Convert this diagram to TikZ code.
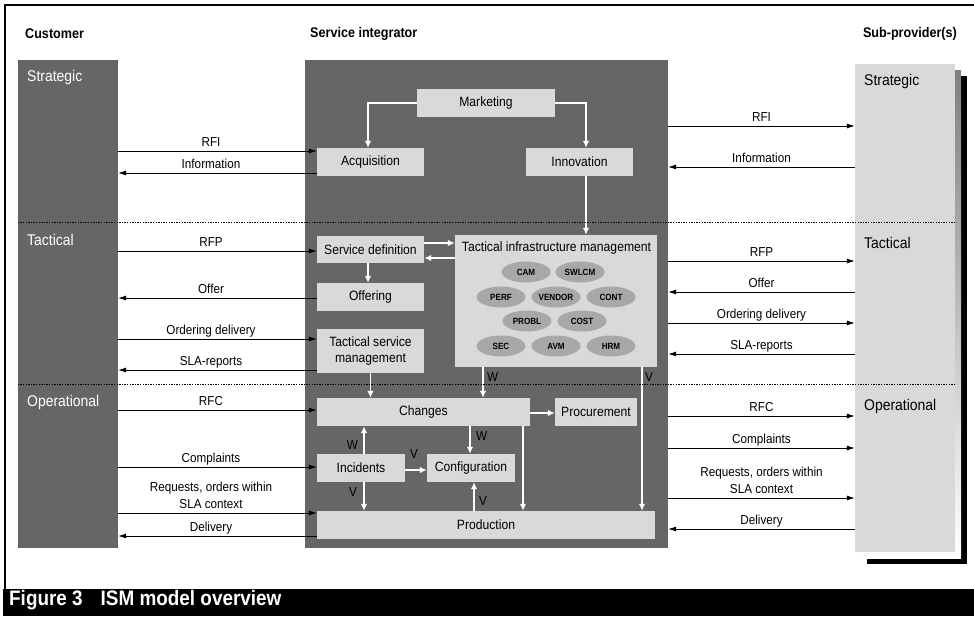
\documentclass[tikz,border=0pt]{standalone}
\usepackage{fontspec}
\setmainfont{Liberation Sans}[FakeStretch=0.9]
\usetikzlibrary{arrows.meta,shapes.geometric}
\definecolor{panel}{HTML}{666666}
\definecolor{boxfill}{HTML}{D9D9D9}
\definecolor{ovalfill}{HTML}{A8A8A8}
\definecolor{shade}{HTML}{999999}
\newcommand\fsz[2]{\fontsize{#1}{#2}\selectfont}
\begin{document}
\begin{tikzpicture}[x=1pt,y=-1pt,
  box/.style={fill=boxfill,draw=none,inner sep=0pt,font=\fsz{13.5}{16.5},text=black,align=center},
  oval/.style={ellipse,fill=ovalfill,draw=none,inner sep=0pt,minimum width=49,minimum height=21,font=\bfseries\fsz{9}{10}},
  lab/.style={font=\fsz{13}{16.5},inner sep=0pt,anchor=base},
  twolab/.style={font=\fsz{13}{16.5},inner sep=0pt,anchor=south,align=center,text depth=0pt},
  wv/.style={font=\fsz{13}{16},inner sep=0pt,text=black},
  head/.style={font=\bfseries\fsz{14}{16},inner sep=0pt},
  layer/.style={font=\fsz{15.5}{18},inner sep=0pt,anchor=west},
  ext/.style={draw=black,line width=0.8pt,-{Latex[length=8pt,width=5pt]}},
  wa/.style={draw=white,line width=1.3pt,-{Latex[length=7pt,width=6.5pt]}},
  dotline/.style={draw=black,line width=0.8pt,dash pattern=on 1.3pt off 1.3pt}]
\useasboundingbox (0,0) rectangle (974,616);

% frame and caption bar
\draw[line width=2pt] (4,5) -- (974,5);
\draw[line width=2pt] (5,4) -- (5,590);
\fill[black] (3,589) rectangle (974,616);
\node[anchor=base west,inner sep=0pt,text=white,font=\bfseries\fsz{21}{24}] (cap) at (9,605)
  {Figure 3\hspace*{18pt}ISM model overview};

% column headers
\node[head,anchor=west] (hcust) at (25,34) {Customer};
\node[head,anchor=west] (hsi) at (310,34) {Service integrator};
\node[head,anchor=east] (hsub) at (957,34) {Sub-provider(s)};

% columns
\node[fill=panel,inner sep=0pt,minimum width=100,minimum height=488] (cust) at (68,304) {};
\node[fill=panel,inner sep=0pt,minimum width=363,minimum height=488] (si) at (486.5,304) {};
\fill[black] (867,76) rectangle (967,564);
\fill[shade] (861,70) rectangle (961,558);
\node[fill=boxfill,inner sep=0pt,minimum width=100,minimum height=488] (sub) at (905,308) {};

% layer names
\node[layer,text=white] (cs) at (27,77) {Strategic};
\node[layer,text=white] (ct) at (27,240) {Tactical};
\node[layer,text=white] (co) at (27,402) {Operational};
\node[layer] (ss) at (864,81) {Strategic};
\node[layer] (st) at (864,243) {Tactical};
\node[layer] (so) at (864,406) {Operational};

% service integrator boxes
\node[box,minimum width=138,minimum height=28] (mkt) at (486,103) {Marketing};
\node[box,minimum width=107,minimum height=28] (acq) at (370.5,162) {Acquisition};
\node[box,minimum width=107,minimum height=28] (inno) at (579.5,162) {Innovation};
\node[box,minimum width=107,minimum height=27] (sdef) at (370.5,249.5) {Service definition};
\node[box,minimum width=107,minimum height=28] (offer) at (370.5,297) {Offering};
\node[box,minimum width=107,minimum height=44] (tsm) at (370.5,351) {Tactical service\\management};
\node[box,minimum width=202,minimum height=132] (tim) at (556,301) {};
\node[inner sep=0pt,font=\fsz{13.5}{16}] (timt) at (556.5,248.5) {Tactical infrastructure management};
\node[box,minimum width=213,minimum height=28] (chg) at (423.5,412) {Changes};
\node[box,minimum width=82,minimum height=28] (proc) at (596,412) {Procurement};
\node[box,minimum width=88,minimum height=28] (inc) at (361,468) {Incidents};
\node[box,minimum width=88,minimum height=28] (conf) at (471,468) {Configuration};
\node[box,minimum width=338,minimum height=28] (prod) at (486,525) {Production};

% infrastructure management processes
\node[oval] (cam) at (526,272) {CAM};
\node[oval] (swlcm) at (580,272) {SWLCM};
\node[oval] (perf) at (501,297) {PERF};
\node[oval] (vendor) at (556,297) {VENDOR};
\node[oval] (cont) at (611,297) {CONT};
\node[oval] (probl) at (527,321) {PROBL};
\node[oval] (cost) at (582,321) {COST};
\node[oval] (sec) at (501,346) {SEC};
\node[oval] (avm) at (556,346) {AVM};
\node[oval] (hrm) at (611,346) {HRM};

% internal flows
\draw[wa] (mkt.west) -| ([xshift=-2.5pt]acq.north);
\draw[wa] (mkt.east) -| ([xshift=6.5pt]inno.north);
\draw[wa] ([xshift=6.5pt]inno.south) -- ([xshift=6.5pt]inno.south |- tim.north);
\draw[wa] (sdef.east |- 0,243) -- (tim.west |- 0,243);
\draw[wa] (tim.west |- 0,258) -- (sdef.east |- 0,258);
\draw[wa] ([xshift=-2.5pt]sdef.south) -- ([xshift=-2.5pt]offer.north);
\draw[wa] (tsm.south) -- (tsm.south |- chg.north);
\draw[wa] (tim.south -| 483,0) -- (chg.north -| 483,0);
\node[wv,anchor=west] (w1) at (487,377) {W};
\draw[wa] (tim.south -| 642,0) -- (prod.north -| 642,0);
\node[wv,anchor=west] (v1) at (645,377) {V};
\draw[wa] (chg.east |- 0,413) -- (proc.west |- 0,413);
\draw[wa] (inc.north -| 364,0) -- (chg.south -| 364,0);
\node[wv,anchor=east] (w2) at (358,445) {W};
\draw[wa] (inc.south -| 364,0) -- (prod.north -| 364,0);
\node[wv,anchor=east] (v2) at (357,492) {V};
\draw[wa] (inc.east |- 0,470) -- (conf.west |- 0,470);
\node[wv] (v3) at (414,454) {V};
\draw[wa] (chg.south -| 470,0) -- (conf.north -| 470,0);
\node[wv,anchor=west] (w3) at (476,436) {W};
\draw[wa] (prod.north -| 474,0) -- (conf.south -| 474,0);
\node[wv,anchor=west] (v4) at (479,501) {V};
\draw[wa] (chg.south -| 523,0) -- (prod.north -| 523,0);

% customer side exchanges
\draw[ext] (cust.east |- 0,151) -- (acq.west |- 0,151);
\node[lab] (l1) at (211,146.5) {RFI};
\draw[ext] (acq.west |- 0,173) -- (cust.east |- 0,173);
\node[lab] (l2) at (211,168.5) {Information};
\draw[ext] (cust.east |- 0,251) -- (sdef.west |- 0,251);
\node[lab] (l3) at (211,246.5) {RFP};
\draw[ext] (offer.west |- 0,298) -- (cust.east |- 0,298);
\node[lab] (l4) at (211,293.5) {Offer};
\draw[ext] (cust.east |- 0,339) -- (tsm.west |- 0,339);
\node[lab] (l5) at (211,334.5) {Ordering delivery};
\draw[ext] (tsm.west |- 0,370) -- (cust.east |- 0,370);
\node[lab] (l6) at (211,365.5) {SLA-reports};
\draw[ext] (cust.east |- 0,410) -- (chg.west |- 0,410);
\node[lab] (l7) at (211,405.5) {RFC};
\draw[ext] (cust.east |- 0,467) -- (inc.west |- 0,467);
\node[lab] (l8) at (211,462.5) {Complaints};
\draw[ext] (cust.east |- 0,513) -- (prod.west |- 0,513);
\node[twolab] (l9) at (211,508.5) {Requests, orders within\\SLA context};
\draw[ext] (prod.west |- 0,536) -- (cust.east |- 0,536);
\node[lab] (l10) at (211,531.5) {Delivery};

% sub-provider side exchanges
\draw[ext] (si.east |- 0,126) -- (sub.west |- 0,126);
\node[lab] (r1) at (761.5,121.5) {RFI};
\draw[ext] (sub.west |- 0,167) -- (si.east |- 0,167);
\node[lab] (r2) at (761.5,162.5) {Information};
\draw[ext] (si.east |- 0,261) -- (sub.west |- 0,261);
\node[lab] (r3) at (761.5,256.5) {RFP};
\draw[ext] (sub.west |- 0,292) -- (si.east |- 0,292);
\node[lab] (r4) at (761.5,287.5) {Offer};
\draw[ext] (si.east |- 0,323) -- (sub.west |- 0,323);
\node[lab] (r5) at (761.5,318.5) {Ordering delivery};
\draw[ext] (sub.west |- 0,354) -- (si.east |- 0,354);
\node[lab] (r6) at (761.5,349.5) {SLA-reports};
\draw[ext] (si.east |- 0,416) -- (sub.west |- 0,416);
\node[lab] (r7) at (761.5,411.5) {RFC};
\draw[ext] (si.east |- 0,448) -- (sub.west |- 0,448);
\node[lab] (r8) at (761.5,443.5) {Complaints};
\draw[ext] (si.east |- 0,498) -- (sub.west |- 0,498);
\node[twolab] (r9) at (761.5,493.5) {Requests, orders within\\SLA context};
\draw[ext] (sub.west |- 0,529) -- (si.east |- 0,529);
\node[lab] (r10) at (761.5,524.5) {Delivery};

% layer boundaries
\draw[dotline] (cust.west |- 0,222.5) -- (sub.east |- 0,222.5);
\draw[dotline] (cust.west |- 0,384) -- (sub.east |- 0,384);
\end{tikzpicture}
\end{document}
